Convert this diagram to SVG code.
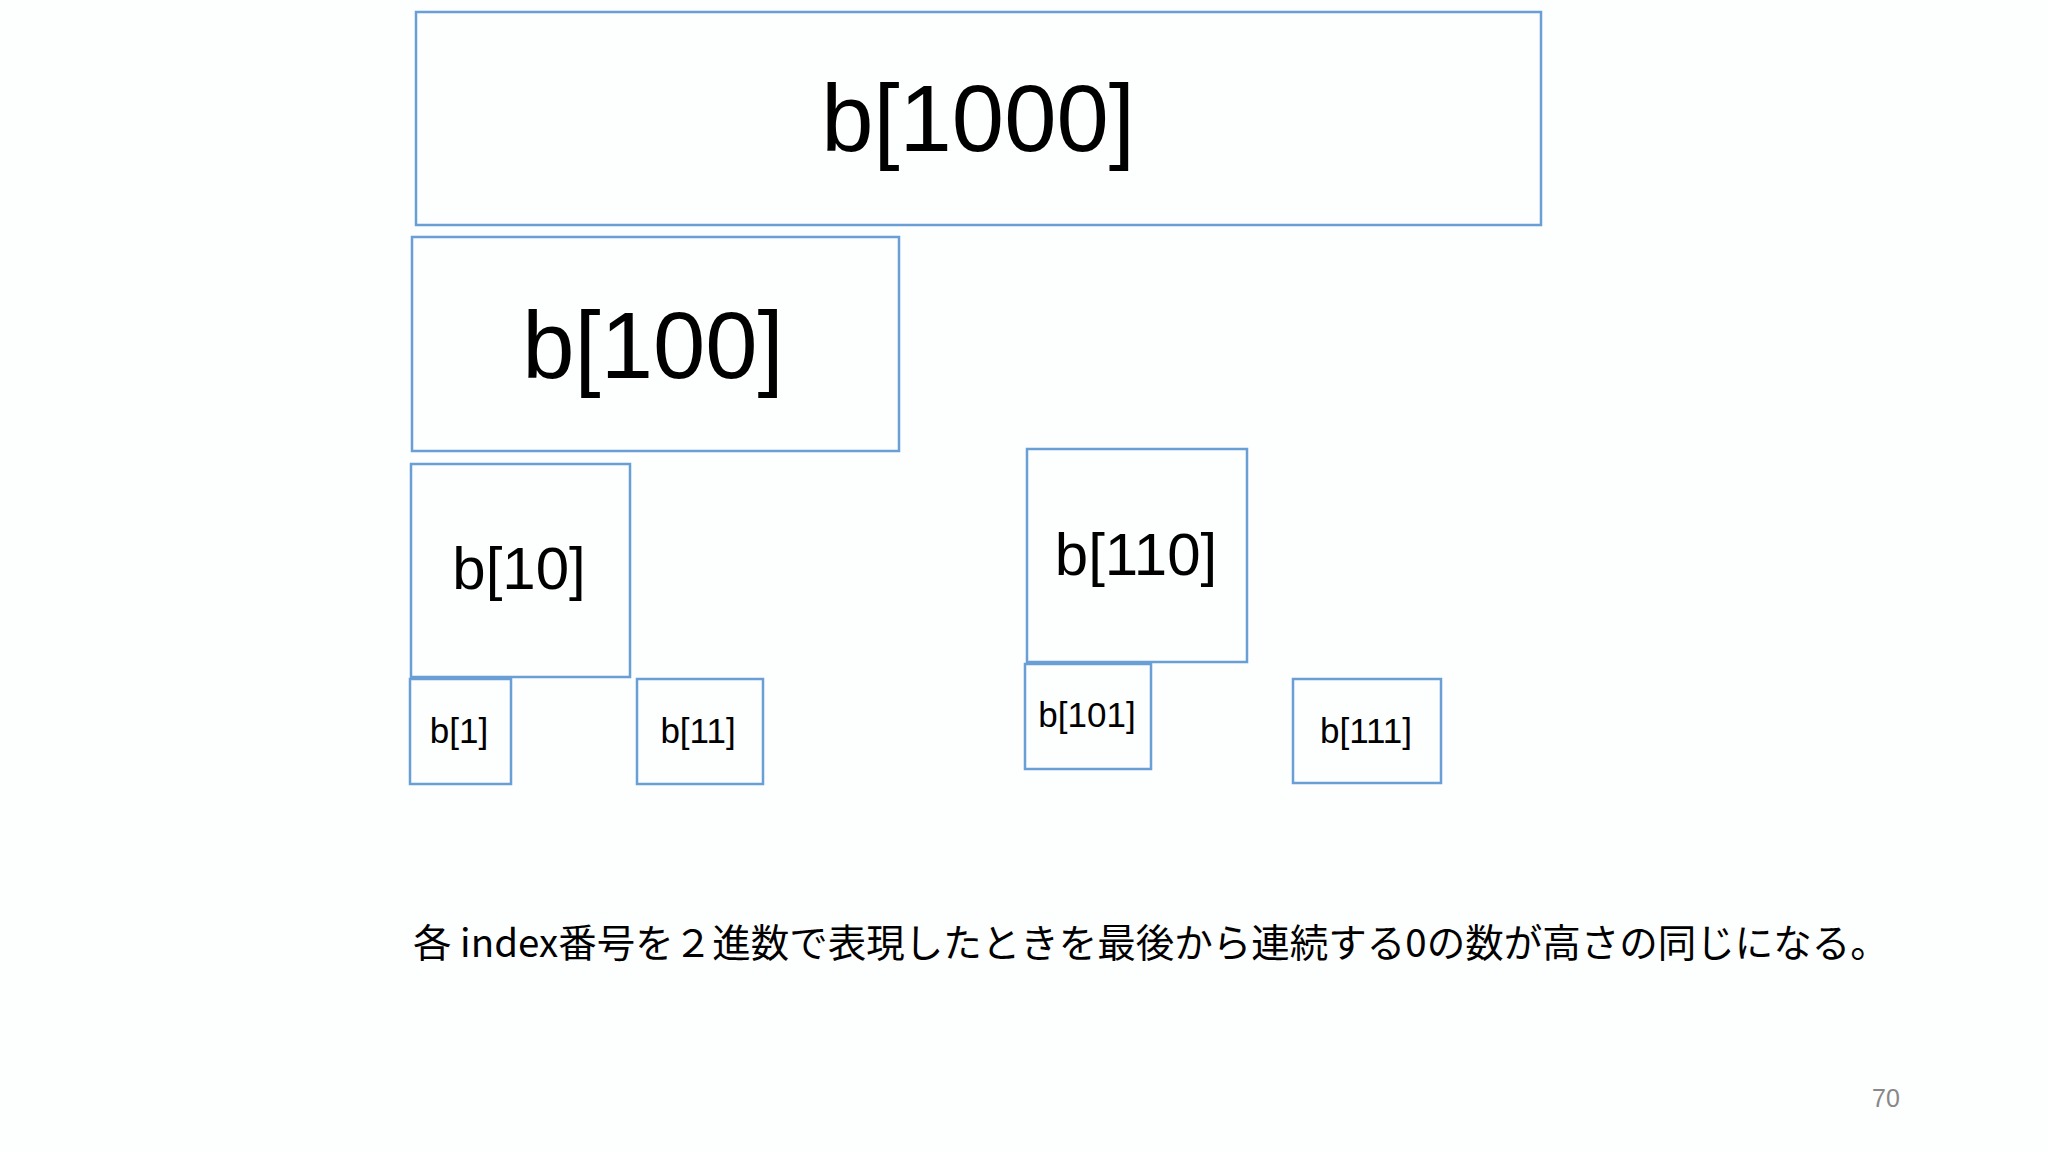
<svg xmlns="http://www.w3.org/2000/svg" width="2048" height="1152" viewBox="0 0 2048 1152">
<style>
.box{fill:none;stroke:#6a9fd6;stroke-width:2.5}
.lbl{font-family:"Liberation Sans",Arial,sans-serif;fill:#000;text-anchor:middle}
.xl{font-size:94px}
.md{font-size:60px}
.sm{font-size:35px}
.cap{font-family:"Noto Sans CJK JP","Liberation Sans",sans-serif;font-size:38.5px;fill:#000}
.pg{font-family:"Liberation Sans",Arial,sans-serif;font-size:25px;fill:#888}
</style>
<rect width="2048" height="1152" fill="#fdfefe"/>
<g id="node-b1000"><rect class="box" x="416" y="12" width="1125" height="213"/><text class="lbl xl" x="978" y="151">b[1000]</text></g>
<g id="node-b100"><rect class="box" x="412" y="237" width="487" height="214"/><text class="lbl xl" x="653" y="378">b[100]</text></g>
<g id="node-b10"><rect class="box" x="411" y="464" width="219" height="213"/><text class="lbl md" x="519" y="589">b[10]</text></g>
<g id="node-b110"><rect class="box" x="1027" y="449" width="220" height="213"/><text class="lbl md" x="1136" y="575">b[110]</text></g>
<g id="node-b1"><rect class="box" x="410" y="679" width="101" height="105"/><text class="lbl sm" x="459" y="743">b[1]</text></g>
<g id="node-b11"><rect class="box" x="637" y="679" width="126" height="105"/><text class="lbl sm" x="698" y="743">b[11]</text></g>
<g id="node-b101"><rect class="box" x="1025" y="664" width="126" height="105"/><text class="lbl sm" x="1087" y="727">b[101]</text></g>
<g id="node-b111"><rect class="box" x="1293" y="679" width="148" height="104"/><text class="lbl sm" x="1366" y="743">b[111]</text></g>
<g id="connectors"></g>
<text class="cap" x="413" y="957">各 index番号を２進数で表現したときを最後から連続する0の数が高さの同じになる。</text>
<text class="pg" x="1872" y="1107">70</text>
</svg>
